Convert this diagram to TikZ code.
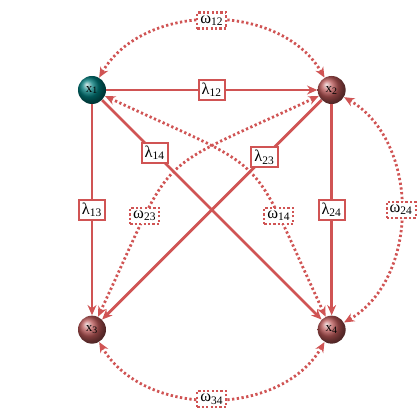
\documentclass[tikz,border=0pt]{standalone}
\usepackage{fontspec}
\setmainfont{Liberation Serif}
\usetikzlibrary{positioning,arrows.meta}

\definecolor{edgered}{RGB}{208,84,84}
\definecolor{ballred}{RGB}{185,86,86}
\definecolor{ballteal}{RGB}{0,122,122}

\begin{document}
\begin{tikzpicture}[
    x=0.02143cm, y=0.02143cm,
    node distance=4.52cm,
    ball/.style={circle, shading=ball, minimum size=0.6cm, inner sep=0pt, font=\footnotesize},
    tealball/.style={ball, ball color=ballteal},
    redball/.style={ball, ball color=ballred},
    lam/.style={draw=edgered, line width=1.7pt, -{Stealth[length=2.2mm, width=1.9mm]}},
    om/.style={draw=edgered, line width=1.7pt, dash pattern=on 1.4pt off 1.5pt,
               {Stealth[length=2.2mm, width=1.9mm]}-{Stealth[length=2.2mm, width=1.9mm]}},
    lbl/.style={draw=edgered, solid, line width=1.2pt, fill=white, inner sep=1.8pt, font=\normalsize},
    olbl/.style={lbl, line width=1.3pt, dash pattern=on 1.4pt off 1.3pt}
]
\useasboundingbox (0,0) rectangle (420,420);

\node[tealball] (x1) at (92,330) {x\textsubscript{1}};
\node[redball, right=of x1] (x2) {x\textsubscript{2}};
\node[redball, below=of x1] (x3) {x\textsubscript{3}};
\node[redball, below=of x2] (x4) {x\textsubscript{4}};

% transitions
\draw[lam] (x1) -- node[lbl]{λ\textsubscript{12}} (x2);
\draw[lam] (x1) -- node[lbl]{λ\textsubscript{13}} (x3);
\draw[lam] (x1) -- node[lbl, pos=0.24]{λ\textsubscript{14}} (x4);
\draw[lam] (x2) -- node[lbl, pos=0.26]{λ\textsubscript{23}} (x3);
\draw[lam] (x2) -- node[lbl]{λ\textsubscript{24}} (x4);

% couplings
\draw[om] (x1) to[bend left=60] node[olbl]{ω\textsubscript{12}} (x2);
\draw[om] (x3) to[bend right=60] node[olbl]{ω\textsubscript{34}} (x4);
\draw[om] (x2) to[bend left=60] node[olbl]{ω\textsubscript{24}} (x4);
\draw[om] (x1) to[bend left=20, looseness=1.55] node[olbl, pos=0.73]{ω\textsubscript{14}} (x4);
\draw[om] (x2) to[bend right=20, looseness=1.55] node[olbl, pos=0.73]{ω\textsubscript{23}} (x3);
\end{tikzpicture}
\end{document}
